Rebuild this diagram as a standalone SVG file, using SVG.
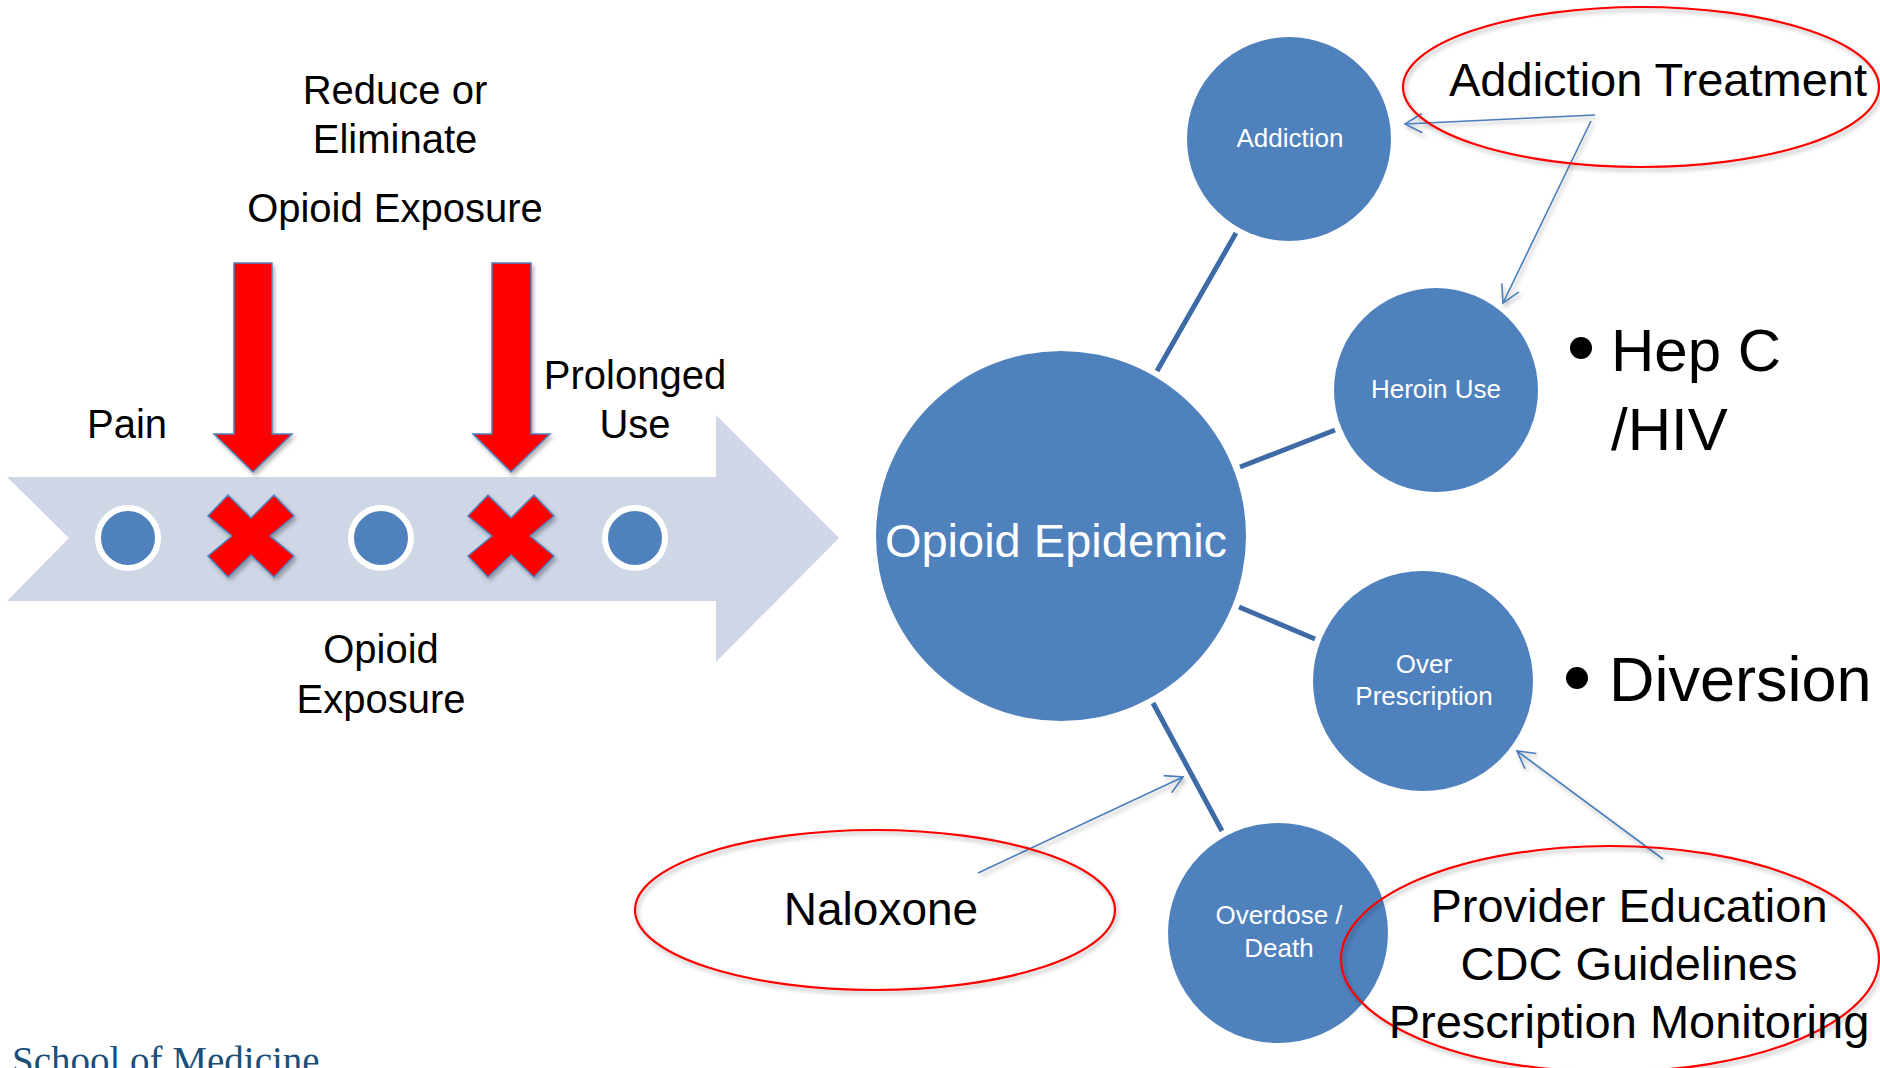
<svg xmlns="http://www.w3.org/2000/svg" width="1880" height="1068" viewBox="0 0 1880 1068">
<style>
.lbl{font-family:"Liberation Sans",Arial,sans-serif;fill:#000;text-anchor:middle}
.wht{font-family:"Liberation Sans",Arial,sans-serif;fill:#fff;text-anchor:middle}
.node{fill:#4F81BD}
.dot{fill:#4F81BD;stroke:#fff;stroke-width:6}
.xm{fill:#FF0000;stroke:#4F81BD;stroke-width:1.5}
.conn{stroke:#3E6BA6;stroke-width:5;fill:none}
.ann{stroke:#4A7EBB;stroke-width:1.6;fill:none}
.oval{fill:none;stroke:#FF0000;stroke-width:2.2}
</style>
<defs>
<filter id="sh" x="-20%" y="-20%" width="140%" height="140%">
<feDropShadow dx="2" dy="3" stdDeviation="2" flood-color="#000" flood-opacity="0.3"/>
</filter>
<marker id="vhead" markerUnits="userSpaceOnUse" markerWidth="40" markerHeight="40" refX="0" refY="0" orient="auto" viewBox="-20 -20 40 40" overflow="visible">
<path d="M -17 -9.5 L 0 0 L -17 9.5" fill="none" stroke="#4A7EBB" stroke-width="1.6"/>
</marker>
</defs>
<rect width="1880" height="1068" fill="#fff"/>

<g id="timeline">
<polygon points="7,477 716,477 716,415 839,538 716,662 716,601 7,601 69,538" fill="#CFD7E7"/>
<circle class="dot" cx="128" cy="538" r="30"/>
<circle class="dot" cx="381" cy="538" r="30"/>
<circle class="dot" cx="635" cy="538" r="30"/>
<polygon class="xm" filter="url(#sh)" transform="translate(251,536)" points="-43,-20 -23,-41 0,-18 23,-41 43,-20 19,0 43,20 23,41 0,19 -23,41 -43,20 -19,0"/>
<polygon class="xm" filter="url(#sh)" transform="translate(511,536)" points="-43,-20 -23,-41 0,-18 23,-41 43,-20 19,0 43,20 23,41 0,19 -23,41 -43,20 -19,0"/>
<polygon class="xm" filter="url(#sh)" points="234,263 272,263 272,434 292,434 253,472 214,434 234,434"/>
<polygon class="xm" filter="url(#sh)" points="492,263 531,263 531,434 550,434 511,472 473,434 492,434"/>
<text class="lbl" font-size="40" x="395" y="104">Reduce or</text>
<text class="lbl" font-size="40" x="395" y="153">Eliminate</text>
<text class="lbl" font-size="40" x="395" y="222">Opioid Exposure</text>
<text class="lbl" font-size="40" x="127" y="438">Pain</text>
<text class="lbl" font-size="40" x="635" y="389">Prolonged</text>
<text class="lbl" font-size="40" x="635" y="438">Use</text>
<text class="lbl" font-size="40" x="381" y="663">Opioid</text>
<text class="lbl" font-size="40" x="381" y="713">Exposure</text>
</g>

<g id="connectors">
<line class="conn" x1="1236" y1="233" x2="1157" y2="371"/>
<line class="conn" x1="1335" y1="430" x2="1240" y2="467"/>
<line class="conn" x1="1239" y1="607" x2="1315" y2="639"/>
<line class="conn" x1="1153" y1="703" x2="1222" y2="831"/>
<g filter="url(#sh)">
<line class="ann" x1="1595" y1="115" x2="1405" y2="124" marker-end="url(#vhead)"/>
<line class="ann" x1="1591" y1="121" x2="1503" y2="303" marker-end="url(#vhead)"/>
<line class="ann" x1="978" y1="873" x2="1183" y2="777" marker-end="url(#vhead)"/>
<line class="ann" x1="1663" y1="859" x2="1517" y2="751" marker-end="url(#vhead)"/>
</g>
</g>

<g id="opioid-epidemic">
<circle class="node" cx="1061" cy="536" r="185"/>
<text class="wht" font-size="47" x="1056" y="557">Opioid Epidemic</text>
</g>
<g id="addiction">
<circle class="node" cx="1289" cy="139" r="102"/>
<text class="wht" font-size="26" x="1290" y="147">Addiction</text>
</g>
<g id="heroin-use">
<circle class="node" cx="1436" cy="390" r="102"/>
<text class="wht" font-size="26" x="1436" y="398">Heroin Use</text>
</g>
<g id="over-prescription">
<circle class="node" cx="1423" cy="681" r="110"/>
<text class="wht" font-size="26" x="1424" y="673">Over</text>
<text class="wht" font-size="26" x="1424" y="705">Prescription</text>
</g>
<g id="overdose-death">
<circle class="node" cx="1278" cy="933" r="110"/>
<text class="wht" font-size="26" x="1279" y="924">Overdose /</text>
<text class="wht" font-size="26" x="1279" y="957">Death</text>
</g>

<g id="addiction-treatment">
<ellipse class="oval" filter="url(#sh)" cx="1641" cy="87" rx="238" ry="80"/>
<text class="lbl" font-size="47" x="1658" y="96">Addiction Treatment</text>
</g>
<g id="naloxone">
<ellipse class="oval" filter="url(#sh)" cx="875" cy="910" rx="240" ry="80"/>
<text class="lbl" font-size="46" x="881" y="925">Naloxone</text>
</g>
<g id="provider">
<ellipse class="oval" filter="url(#sh)" cx="1610" cy="959" rx="269" ry="113"/>
<text class="lbl" font-size="47" x="1629" y="922">Provider Education</text>
<text class="lbl" font-size="47" x="1629" y="980">CDC Guidelines</text>
<text class="lbl" font-size="47" x="1629" y="1038">Prescription Monitoring</text>
</g>

<g id="hep-c-hiv">
<circle cx="1581" cy="348" r="11" fill="#000"/>
<text class="lbl" font-size="60" x="1611" y="371" style="text-anchor:start">Hep C</text>
<text class="lbl" font-size="60" x="1611" y="450" style="text-anchor:start">/HIV</text>
</g>
<g id="diversion">
<circle cx="1577" cy="678" r="11" fill="#000"/>
<text class="lbl" font-size="63" x="1609" y="701" style="text-anchor:start">Diversion</text>
</g>

<text x="12" y="1074" font-family="'Liberation Serif','DejaVu Serif',serif" font-size="39" fill="#1B4F7A">School of Medicine</text>
</svg>
